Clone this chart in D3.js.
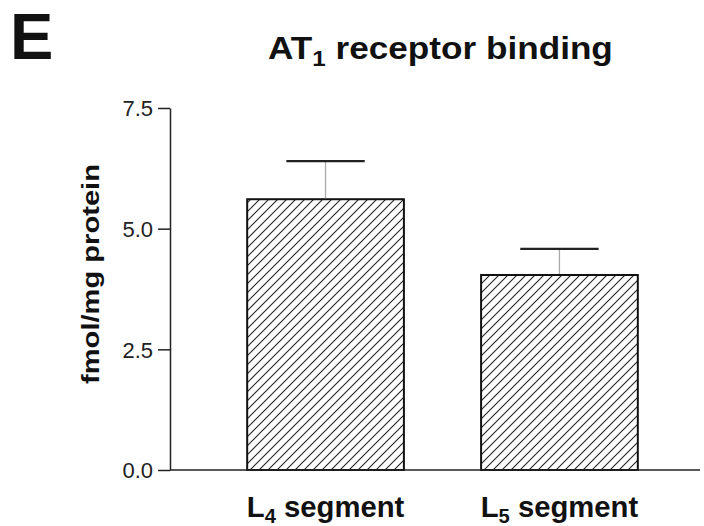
<!DOCTYPE html>
<html>
<head>
<meta charset="utf-8">
<script src="https://cdn.jsdelivr.net/npm/d3@7"></script>
<style>
  body { margin: 0; background: #fff; }
  svg { font-family: "Liberation Sans", Arial, sans-serif; }
</style>
</head>
<body>
<div id="chart"></div>
<script>
// Data
const segments = ["L4", "L5"];
const segmentSubs = ["4", "5"];
const meanValues = [5.61, 4.04];
const semValues = [0.79, 0.54];
const yTicks = [0, 2.5, 5.0, 7.5];

const width = 704;
const height = 526;
const axisX = 170;
const axisBottom = 470;

const svg = d3.select('#chart')
    .append('svg')
    .attr('width', width)
    .attr('height', height);

// stretch a text along its own direction to a target length
function fitWidth(g, target) {
    const w = g.node().getBBox().width;
    return w > 0 ? target / w : 1;
}

// Hatch pattern for the bars
const defs = svg.append('defs');
defs.append('pattern')
    .attr('id', 'hatch')
    .attr('patternUnits', 'userSpaceOnUse')
    .attr('width', 9)
    .attr('height', 9)
    .append('path')
    .attr('d', 'M-1,1 l2,-2 M0,9 l9,-9 M8,10 l2,-2')
    .attr('stroke', '#222')
    .attr('stroke-width', 1.1);

// Scales
const yScale = d3.scaleLinear()
    .domain([0, 7.5])
    .range([axisBottom, 108]);

const xScale = d3.scaleBand()
    .domain(segments)
    .range([axisX, 715])
    .paddingInner(0.33)
    .paddingOuter(0.33);

// Bars
svg.selectAll('.bar')
    .data(segments)
    .enter().append('rect')
    .attr('class', 'bar')
    .attr('x', d => xScale(d))
    .attr('width', xScale.bandwidth())
    .attr('y', (d, i) => yScale(meanValues[i]))
    .attr('height', (d, i) => axisBottom - yScale(meanValues[i]))
    .attr('fill', 'url(#hatch)')
    .attr('stroke', '#111')
    .attr('stroke-width', 2);

// Error bars (upper only)
const errG = svg.append('g');
segments.forEach((d, i) => {
    const cx = xScale(d) + xScale.bandwidth() / 2;
    const capW = xScale.bandwidth() / 2;
    errG.append('line')
        .attr('x1', cx).attr('x2', cx)
        .attr('y1', yScale(meanValues[i]) - 1)
        .attr('y2', yScale(meanValues[i] + semValues[i]))
        .attr('stroke', '#aaa')
        .attr('stroke-width', 1.3);
    errG.append('line')
        .attr('x1', cx - capW / 2).attr('x2', cx + capW / 2)
        .attr('y1', yScale(meanValues[i] + semValues[i]))
        .attr('y2', yScale(meanValues[i] + semValues[i]))
        .attr('stroke', '#222')
        .attr('stroke-width', 2.2);
});

// Y axis
const yAxis = svg.append('g')
    .attr('transform', `translate(${axisX},0)`)
    .call(d3.axisLeft(yScale)
        .tickValues(yTicks)
        .tickFormat(d3.format('.1f'))
        .tickSize(12)
        .tickSizeOuter(0)
        .tickPadding(5));
yAxis.select('.domain').attr('stroke', '#222').attr('stroke-width', 1.5);
yAxis.selectAll('.tick line').attr('stroke', '#222').attr('stroke-width', 1.5);
yAxis.selectAll('.tick text')
    .attr('fill', '#222')
    .style('font-size', '22px')
    .attr('dy', '0.36em');

// X axis line
svg.append('line')
    .attr('x1', axisX).attr('x2', 700)
    .attr('y1', axisBottom).attr('y2', axisBottom)
    .attr('stroke', '#222')
    .attr('stroke-width', 1.5);

// X category labels
segments.forEach((d, i) => {
    const cx = xScale(d) + xScale.bandwidth() / 2;
    const t = svg.append('text')
        .attr('x', 0)
        .attr('y', 0)
        .attr('text-anchor', 'middle')
        .attr('font-weight', 'bold')
        .attr('fill', '#111')
        .style('font-size', '29px');
    t.append('tspan').text('L');
    t.append('tspan').attr('dy', 6).style('font-size', '20px').text(segmentSubs[i]);
    t.append('tspan').attr('dy', -6).text(' segment');
    const s = fitWidth(t, 158);
    t.attr('transform', `translate(${cx},517) scale(${s},1)`);
});

// Y axis title
const yTitle = svg.append('text')
    .attr('text-anchor', 'middle')
    .attr('font-weight', 'bold')
    .attr('fill', '#111')
    .style('font-size', '24px')
    .text('fmol/mg protein');
const sy = fitWidth(yTitle, 220);
yTitle.attr('transform', `translate(99,274) rotate(-90) scale(${sy},1)`);

// Chart title
const title = svg.append('text')
    .attr('x', 0)
    .attr('y', 0)
    .attr('font-weight', 'bold')
    .attr('fill', '#111')
    .style('font-size', '32px');
title.append('tspan').text('AT');
title.append('tspan').attr('dy', 7).style('font-size', '22px').text('1');
title.append('tspan').attr('dy', -7).text(' receptor binding');
const st = fitWidth(title, 345);
title.attr('transform', `translate(268,59) scale(${st},1)`);

// Panel letter
svg.append('text')
    .attr('x', 10)
    .attr('y', 59)
    .attr('font-weight', 'bold')
    .attr('fill', '#111')
    .style('font-size', '65px')
    .text('E');
</script>
</body>
</html>
